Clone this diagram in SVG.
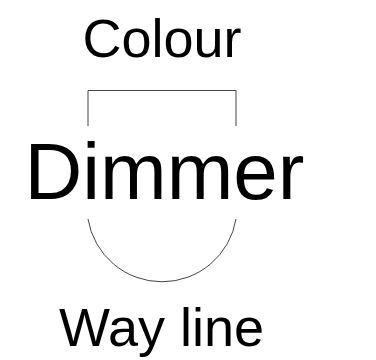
<svg xmlns="http://www.w3.org/2000/svg" width="376" height="360" viewBox="0 0 376 360">
<style>
.t{font-family:"Liberation Sans",Arial,sans-serif;fill:#000;text-anchor:middle}
.s{fill:none;stroke:#444;stroke-width:1}
</style>
<rect width="376" height="360" fill="#fff"/>
<g id="colour"><text class="t" x="162" y="57" font-size="54">Colour</text></g>
<g id="connectors">
<path class="s" d="M88,126 V90.5 H236 V126"/>
<path class="s" d="M88,219 A75,75 0 0 0 236,219"/>
</g>
<g id="dimmer"><text class="t" x="164.5" y="199" font-size="80">Dimmer</text></g>
<g id="wayline"><text class="t" x="161.5" y="346" font-size="54">Way line</text></g>
</svg>
